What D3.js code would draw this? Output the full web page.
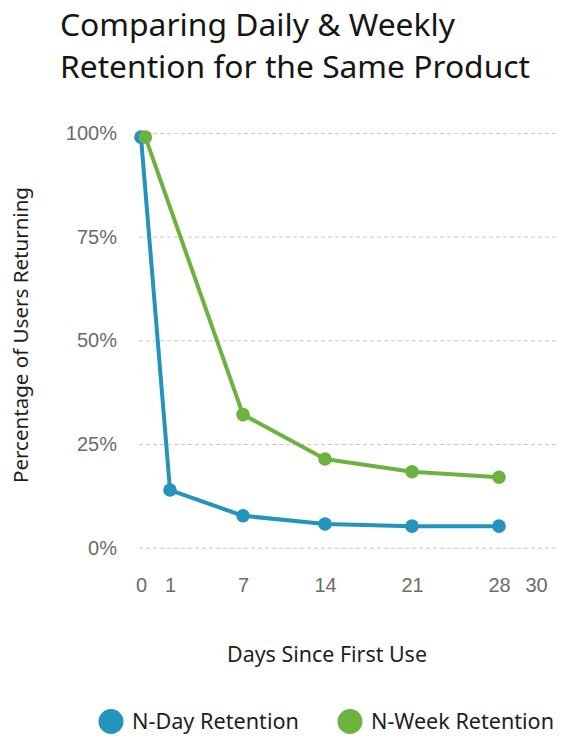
<!DOCTYPE html>
<html>
<head>
<meta charset="utf-8">
<script src="https://cdn.jsdelivr.net/npm/d3@7"></script>
<style>
  body { margin: 0; background: #fff; }
  svg { display: block; }
</style>
</head>
<body>
<div id="chart"></div>
<script>
// data
const dayTicks = [0, 1, 7, 14, 21, 28, 30];
const percentTicks = [0, 25, 50, 75, 100];
const nDayDays = [0, 1, 7, 14, 21, 28];
const nDayValues = [99, 13.9, 7.7, 5.7, 5.2, 5.2];
const nWeekDays = [0.15, 7, 14, 21, 28];
const nWeekValues = [99, 32.1, 21.4, 18.3, 17.0];
const seriesNames = ["N-Day Retention", "N-Week Retention"];
const seriesColors = ["#2394bb", "#6cb33e"];
const titleLines = ["Comparing Daily & Weekly", "Retention for the Same Product"];

const width = 571;
const height = 747;
const font = "'Noto Sans', 'DejaVu Sans', sans-serif";

const svg = d3.select("#chart")
  .append("svg")
  .attr("width", width)
  .attr("height", height)
  .attr("font-family", font);

// scale the font so the text takes the same width as in the reference
function fitText(sel, w) {
  const fs = +sel.attr("font-size");
  const len = sel.node().getComputedTextLength();
  if (len > 0) sel.attr("font-size", (fs * w / len).toFixed(2));
  return sel;
}

// title
titleLines.forEach((t, i) => {
  const txt = svg.append("text")
    .attr("class", "title")
    .attr("x", 60)
    .attr("y", 36 + 42 * i)
    .attr("font-size", 26)
    .attr("fill", "#151515")
    .text(t);
  fitText(txt, i == 0 ? 395 : 470);
});

// the x axis in the original is not evenly spaced, so a polylinear scale
const x = d3.scaleLinear()
  .domain(dayTicks)
  .range([141, 170, 243, 325, 412, 499, 536]);

const y = d3.scaleLinear()
  .domain([0, 100])
  .range([547.7, 133]);

const gridLeft = 139;
const gridRight = 556;

// y axis + gridlines
const yAxis = svg.append("g")
  .attr("transform", `translate(${gridLeft},0)`)
  .call(d3.axisLeft(y)
    .tickValues(percentTicks)
    .tickFormat(d => d + "%")
    .tickSize(-(gridRight - gridLeft))
    .tickPadding(22));
yAxis.select(".domain").remove();
yAxis.selectAll(".tick line")
  .attr("stroke", "#c8c8c8")
  .attr("stroke-dasharray", "4,3");
yAxis.selectAll(".tick text")
  .attr("font-size", 20)
  .attr("fill", "#6b6b6b");

// x axis
const xAxis = svg.append("g")
  .attr("transform", "translate(0,568)")
  .call(d3.axisBottom(x)
    .tickValues(dayTicks)
    .tickSize(0)
    .tickPadding(10));
xAxis.select(".domain").remove();
xAxis.selectAll(".tick text")
  .attr("font-size", 20)
  .attr("fill", "#6b6b6b");

// axis titles
const yTitle = svg.append("text")
  .attr("transform", "translate(28,335) rotate(-90)")
  .attr("text-anchor", "middle")
  .attr("font-size", 19)
  .attr("fill", "#1e1e1e")
  .text("Percentage of Users Returning");
fitText(yTitle, 296);

const xTitle = svg.append("text")
  .attr("x", 327)
  .attr("y", 662)
  .attr("text-anchor", "middle")
  .attr("font-size", 19)
  .attr("fill", "#1e1e1e")
  .text("Days Since First Use");
fitText(xTitle, 200);

// lines and dots
const series = [
  { days: nDayDays, values: nDayValues },
  { days: nWeekDays, values: nWeekValues }
];

const line = d3.line()
  .x(d => x(d[0]))
  .y(d => y(d[1]));

series.forEach((s, i) => {
  const pts = s.days.map((d, j) => [d, s.values[j]]);
  const g = svg.append("g").attr("class", "series");
  g.append("path")
    .datum(pts)
    .attr("d", line)
    .attr("fill", "none")
    .attr("stroke", seriesColors[i])
    .attr("stroke-width", 4)
    .attr("stroke-linejoin", "round");
  g.selectAll("circle")
    .data(pts)
    .join("circle")
    .attr("cx", d => x(d[0]))
    .attr("cy", d => y(d[1]))
    .attr("r", 6.8)
    .attr("fill", seriesColors[i]);
});

// legend
const legendX = [111, 350];
const legendW = [167, 183];
seriesNames.forEach((n, i) => {
  svg.append("circle")
    .attr("cx", legendX[i])
    .attr("cy", 721.5)
    .attr("r", 12.5)
    .attr("fill", seriesColors[i]);
  const txt = svg.append("text")
    .attr("x", legendX[i] + 21)
    .attr("y", 729)
    .attr("font-size", 20)
    .attr("fill", "#1e1e1e")
    .text(n);
  fitText(txt, legendW[i]);
});
</script>
</body>
</html>
